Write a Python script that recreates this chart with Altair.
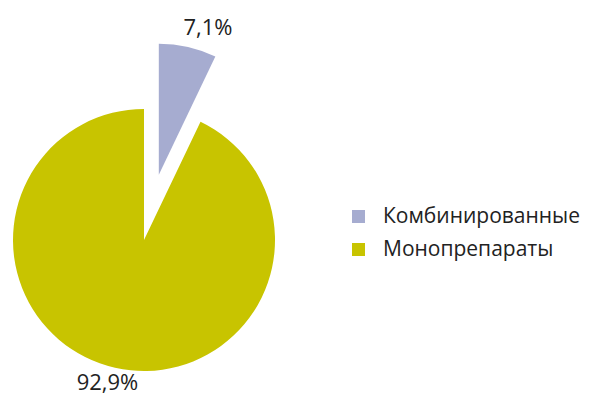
import math
import altair as alt
import pandas as pd

categories = ["Комбинированные", "Монопрепараты"]
values = [7.1, 92.9]
labels = ["7,1%", "92,9%"]
colors = ["#A6ACD0", "#C8C400"]

df = pd.DataFrame({"category": categories, "value": values, "label": labels})
df["end"] = df["value"].cumsum()
df["start"] = df["end"] - df["value"]
df["mid"] = (df["start"] + df["end"]) / 2

CX, CY, R = 136, 232, 131
EXPLODE = 67
mid_small = df.loc[0, "mid"] / 100 * 2 * math.pi
ex_x = CX + EXPLODE * math.sin(mid_small)
ex_y = CY - EXPLODE * math.cos(mid_small)

theta_scale = alt.Scale(domain=[0, 100], range=[0, 2 * math.pi])
color = alt.Color(
    "category:N",
    scale=alt.Scale(domain=categories, range=colors),
    legend=alt.Legend(
        title=None,
        orient="none",
        legendX=340,
        legendY=198,
        symbolType="square",
        symbolSize=169,
        symbolStrokeWidth=0,
        labelFont="Open Sans",
        labelFontSize=21,
        labelColor="#222222",
        labelOffset=14,
        labelLimit=400,
        rowPadding=11,
        padding=0,
    ),
)

base = alt.Chart(df)

big = base.transform_filter(alt.datum.category == categories[1]).mark_arc(
    radius=R, stroke=None
).encode(
    theta=alt.Theta("start:Q", scale=theta_scale),
    theta2="end:Q",
    color=color,
    x=alt.value(CX),
    y=alt.value(CY),
)

small = base.transform_filter(alt.datum.category == categories[0]).mark_arc(
    radius=R, stroke=None
).encode(
    theta=alt.Theta("start:Q", scale=theta_scale),
    theta2="end:Q",
    color=color,
    x=alt.value(ex_x),
    y=alt.value(ex_y),
)

small_label = base.transform_filter(alt.datum.category == categories[0]).mark_text(
    radius=150, font="Open Sans", fontSize=22, color="#222222", dx=16
).encode(
    theta=alt.Theta("mid:Q", scale=theta_scale),
    text="label:N",
    x=alt.value(ex_x),
    y=alt.value(ex_y),
)

big_label = base.transform_filter(alt.datum.category == categories[1]).mark_text(
    radius=147, font="Open Sans", fontSize=22, color="#222222", dx=-4
).encode(
    theta=alt.Theta("mid:Q", scale=theta_scale),
    text="label:N",
    x=alt.value(CX),
    y=alt.value(CY),
)

chart = alt.layer(big, small, small_label, big_label).properties(
    width=573, height=385, autosize=alt.AutoSizeParams(type="none"), padding=0,
    background="white",
).configure_view(stroke=None)

chart.save("out.html", embed_options={"renderer": "svg", "actions": False})
